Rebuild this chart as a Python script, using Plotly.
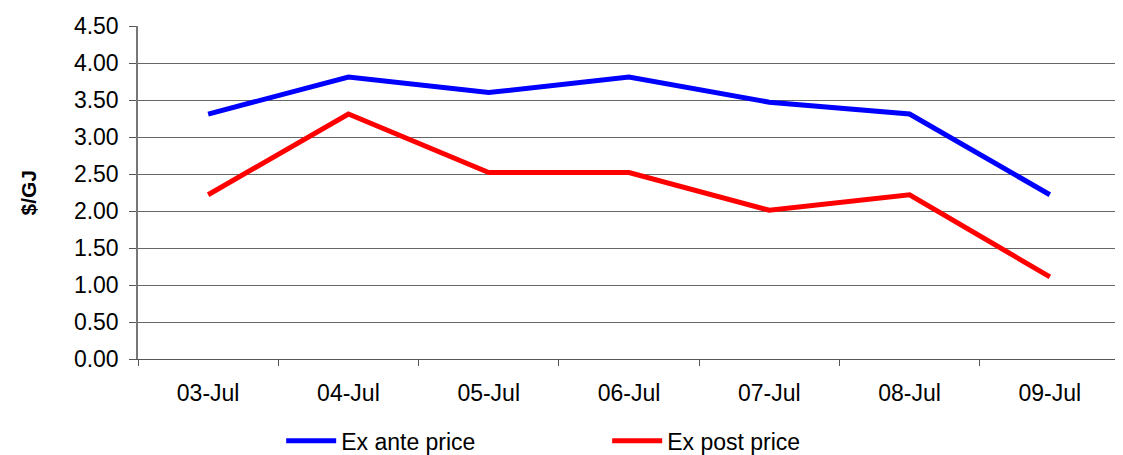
import plotly.graph_objects as go

dates = ["03-Jul", "04-Jul", "05-Jul", "06-Jul", "07-Jul", "08-Jul", "09-Jul"]
ex_ante = [3.31, 3.81, 3.60, 3.81, 3.47, 3.31, 2.22]
ex_post = [2.22, 3.31, 2.52, 2.52, 2.01, 2.22, 1.11]
y_ticks = [0, 0.5, 1.0, 1.5, 2.0, 2.5, 3.0, 3.5, 4.0, 4.5]

fig = go.Figure()
fig.add_trace(go.Scatter(x=dates, y=ex_ante, mode="lines", name="Ex ante price",
                         line=dict(color="#0000FF", width=5)))
fig.add_trace(go.Scatter(x=dates, y=ex_post, mode="lines", name="Ex post price",
                         line=dict(color="#FF0000", width=5)))

font = "Liberation Sans, Arial, sans-serif"
fig.update_layout(
    width=1115, height=447,
    margin=dict(l=130, r=3, t=18, b=96, autoexpand=False),
    paper_bgcolor="white", plot_bgcolor="white",
    font=dict(family=font, size=23, color="black"),
    showlegend=True,
    legend=dict(orientation="h", xref="container", yref="paper",
                x=0.245, xanchor="left", y=-0.246, yanchor="middle",
                entrywidth=261, font=dict(size=23), itemwidth=50),
    xaxis=dict(type="category", range=[-0.5, 6.5], automargin=False,
               showline=True, linecolor="#555555", linewidth=1,
               ticks="outside", ticklen=6, tickcolor="#555555", tickson="boundaries",
               showgrid=False, tickfont=dict(size=23), ticklabelstandoff=13),
    yaxis=dict(range=[0, 4.5], tickvals=y_ticks, tickformat=".2f", automargin=False,
               showline=True, linecolor="#777777", linewidth=1.5,
               ticks="outside", ticklen=7, tickcolor="#555555",
               showgrid=True, gridcolor="#666666", gridwidth=1,
               tickfont=dict(size=23), ticklabelstandoff=6),
    annotations=[dict(text="<b>$/GJ</b>", xref="paper", yref="paper",
                      x=-0.112, y=0.5, xanchor="center", yanchor="middle",
                      textangle=-90, showarrow=False, font=dict(size=21))],
)

fig.write_html("out.html")
